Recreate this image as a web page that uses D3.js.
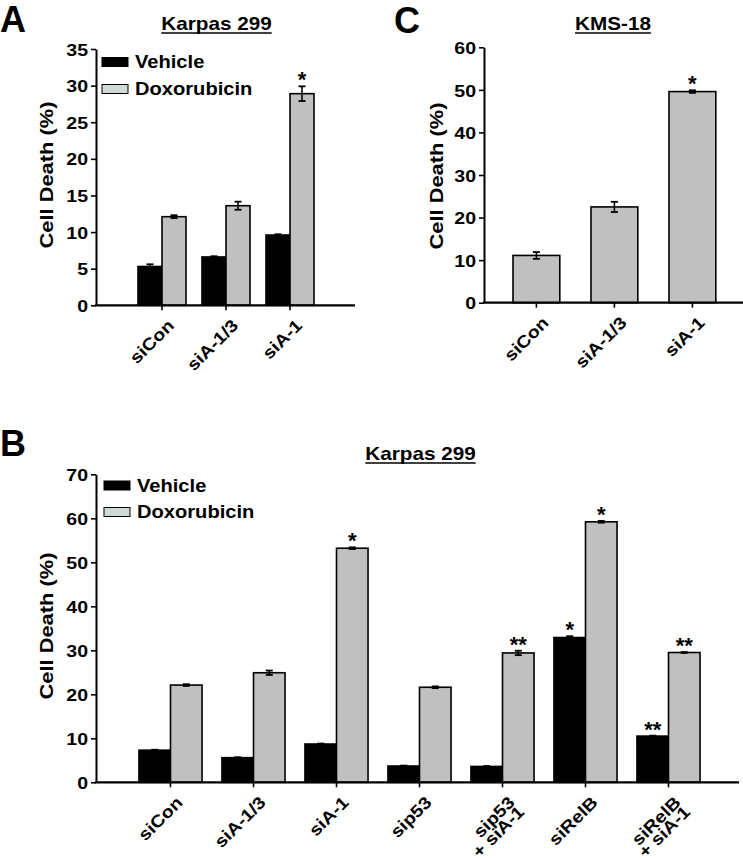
<!DOCTYPE html>
<html><head><meta charset="utf-8">
<script src="https://cdn.jsdelivr.net/npm/d3@7"></script>
<style>
body{margin:0;background:#fff}
svg text{font-family:"Liberation Sans", Arial, Helvetica, sans-serif;font-weight:bold;fill:#000}
</style>
</head><body>
<svg id="chart" width="743" height="860"></svg>
<script>
// ---------- DATA ----------
const series = ["Vehicle", "Doxorubicin"];

// Panel A: Karpas 299
const catsA = [["siCon"], ["siA-1/3"], ["siA-1"]];
const vehA = [5.3, 6.6, 9.6];
const vehErrA = [0.3, 0.1, 0.1];
const doxA = [12.1, 13.6, 28.9];
const doxErrA = [0.2, 0.55, 1.0];
const starsVehA = ["", "", ""];
const starsDoxA = ["", "", "*"];
const ticksA = [0, 5, 10, 15, 20, 25, 30, 35];

// Panel C: KMS-18
const catsC = [["siCon"], ["siA-1/3"], ["siA-1"]];
const doxC = [11.1, 22.5, 49.6];
const doxErrC = [0.8, 1.2, 0.3];
const starsDoxC = ["", "", "*"];
const ticksC = [0, 10, 20, 30, 40, 50, 60];

// Panel B: Karpas 299
const catsB = [["siCon"], ["siA-1/3"], ["siA-1"], ["sip53"], ["sip53", "+ siA-1"], ["siRelB"], ["siRelB", "+ siA-1"]];
const vehB = [7.3, 5.6, 8.7, 3.7, 3.6, 32.9, 10.5];
const vehErrB = [0.1, 0.1, 0.1, 0.1, 0.1, 0.3, 0.1];
const doxB = [22.1, 24.9, 53.2, 21.6, 29.4, 59.2, 29.5];
const doxErrB = [0.2, 0.5, 0.2, 0.2, 0.5, 0.2, 0.1];
const starsVehB = ["", "", "", "", "", "*", "**"];
const starsDoxB = ["", "", "*", "", "**", "*", "**"];
const ticksB = [0, 10, 20, 30, 40, 50, 60, 70];

// ---------- STYLE ----------
const SX = 1.15;                 // horizontal glyph stretch
const FILL = {Vehicle: "#000000", Doxorubicin: "#c0c0c0"};
const LEGFILL = {Vehicle: "#000000", Doxorubicin: "#d3d9d9"};

const svg = d3.select("#chart");

function drawPanel(p) {
  const g = svg.append("g");
  const y = d3.scaleLinear().domain([0, p.max]).range([p.yBot, p.yTop]);
  const keys = p.cats.map(c => c.join(" "));
  const x = d3.scaleBand().domain(keys).range(p.band)
    .paddingInner(p.padIn).paddingOuter(p.padOut);
  const xs = d3.scaleBand().domain(p.series).range([0, x.bandwidth()]);

  // bars
  p.series.forEach(s => {
    const d = p.data[s];
    const rows = keys.map((k, i) => ({k, v: d.v[i], e: d.e[i], star: d.star[i]}));
    const sg = g.append("g");
    sg.selectAll("rect").data(rows).join("rect")
      .attr("x", r => x(r.k) + xs(s))
      .attr("y", r => y(r.v))
      .attr("width", xs.bandwidth())
      .attr("height", r => y(0) - y(r.v))
      .attr("fill", FILL[s])
      .attr("stroke", "#000").attr("stroke-width", 1.6);
    // error bars
    const eg = sg.selectAll("g.err").data(rows).join("g").attr("class", "err")
      .attr("transform", r => `translate(${x(r.k) + xs(s) + xs.bandwidth() / 2},0)`);
    eg.append("line").attr("x1", 0).attr("x2", 0)
      .attr("y1", r => y(r.v - r.e)).attr("y2", r => y(r.v + r.e))
      .attr("stroke", "#000").attr("stroke-width", 1.6);
    eg.append("line").attr("x1", -3.5).attr("x2", 3.5)
      .attr("y1", r => y(r.v + r.e)).attr("y2", r => y(r.v + r.e))
      .attr("stroke", "#000").attr("stroke-width", 1.8);
    eg.append("line").attr("x1", -3.5).attr("x2", 3.5)
      .attr("y1", r => y(r.v - r.e)).attr("y2", r => y(r.v - r.e))
      .attr("stroke", "#000").attr("stroke-width", 1.8);
    // stars
    eg.filter(r => r.star).append("text")
      .attr("x", 0).attr("y", r => y(r.v + r.e) + 1)
      .attr("text-anchor", "middle")
      .style("font-size", "22px")
      .text(r => r.star);
  });

  // y axis
  const ya = g.append("g").attr("transform", `translate(${p.x0},0)`)
    .call(d3.axisLeft(y).tickValues(p.ticks).tickSize(5).tickSizeOuter(0).tickPadding(3));
  ya.select(".domain").attr("stroke-width", 2);
  ya.selectAll(".tick line").attr("stroke-width", 1.6);
  ya.selectAll(".tick text").attr("x", null)
    .attr("transform", `translate(-8,0) scale(${SX},1)`)
    .attr("dy", "0.36em")
    .style("font-size", "17px").style("font-family", null);

  // x axis
  const xa = g.append("g").attr("transform", `translate(0,${p.yBot})`)
    .call(d3.axisBottom(x).tickSize(5).tickSizeOuter(0).tickFormat(""));
  xa.select(".domain").remove();
  xa.selectAll(".tick line").attr("stroke-width", 1.6);
  g.append("line").attr("x1", p.x0 - 1).attr("x2", p.x1)
    .attr("y1", p.yBot).attr("y2", p.yBot)
    .attr("stroke", "#000").attr("stroke-width", 2.2);

  // x labels (one text element per line)
  p.cats.forEach((c, i) => {
    const cx = x(keys[i]) + x.bandwidth() / 2;
    c.forEach((line, j) => {
      g.append("text")
        .attr("transform", `translate(${cx + 9},${p.yBot + 17}) rotate(-45) scale(${SX},1)`)
        .attr("text-anchor", "end")
        .attr("y", j * 13.5)
        .attr("dy", "0.35em")
        .style("font-size", "17px")
        .text(line);
    });
  });

  // y label
  g.append("text")
    .attr("transform", `translate(${p.ylab[0]},${p.ylab[1]}) rotate(-90) scale(${SX},1)`)
    .attr("text-anchor", "middle")
    .style("font-size", "19px")
    .text("Cell Death (%)");

  // title
  const tt = g.append("text")
    .attr("transform", `translate(${p.title[0]},${p.title[1]}) scale(${SX},1)`)
    .attr("text-anchor", "middle")
    .style("font-size", "18px")
    .text(p.titleText);
  const tw = tt.node().getComputedTextLength() * SX;
  g.append("line").attr("x1", p.title[0] - tw / 2).attr("x2", p.title[0] + tw / 2)
    .attr("y1", p.title[1] + 3).attr("y2", p.title[1] + 3)
    .attr("stroke", "#000").attr("stroke-width", 1.5);

  // panel letter
  g.append("text").attr("x", p.letter[0]).attr("y", p.letter[1])
    .style("font-size", "36px").text(p.letterText);

  // legend
  if (p.legend) {
    p.series.forEach((s, i) => {
      const ly = p.legend[1] + i * p.legend[2];
      g.append("rect").attr("x", p.legend[0]).attr("y", ly)
        .attr("width", 26).attr("height", 9)
        .attr("fill", LEGFILL[s]).attr("stroke", "#000").attr("stroke-width", 1);
      g.append("text")
        .attr("transform", `translate(${p.legend[0] + 33},${ly + 10.5}) scale(${SX},1)`)
        .style("font-size", "17.5px").text(s);
    });
  }
}

drawPanel({
  cats: catsA, series: series, max: 35, ticks: ticksA,
  data: {Vehicle: {v: vehA, e: vehErrA, star: starsVehA}, Doxorubicin: {v: doxA, e: doxErrA, star: starsDoxA}},
  x0: 96, x1: 355, yTop: 49, yBot: 305.3, band: [130, 322], padIn: 0.25, padOut: 0.125,
  ylab: [53, 175], title: [216.5, 30], titleText: "Karpas 299",
  letter: [0, 32], letterText: "A", legend: [102, 57.5, 27]
});

drawPanel({
  cats: catsC, series: ["Doxorubicin"], max: 60, ticks: ticksC,
  data: {Doxorubicin: {v: doxC, e: doxErrC, star: starsDoxC}},
  x0: 484, x1: 743, yTop: 47.3, yBot: 302.7, band: [497.4, 731.4], padIn: 0.4, padOut: 0.2,
  ylab: [443, 176], title: [613, 30], titleText: "KMS-18",
  letter: [394, 33], letterText: "C", legend: null
});

drawPanel({
  cats: catsB, series: series, max: 70, ticks: ticksB,
  data: {Vehicle: {v: vehB, e: vehErrB, star: starsVehB}, Doxorubicin: {v: doxB, e: doxErrB, star: starsDoxB}},
  x0: 96, x1: 739, yTop: 474.3, yBot: 782.3, band: [129, 710], padIn: 0.24, padOut: 0.12,
  ylab: [53, 626], title: [420.5, 460], titleText: "Karpas 299",
  letter: [0, 456], letterText: "B", legend: [104, 481, 26.5]
});
</script>
</body></html>
